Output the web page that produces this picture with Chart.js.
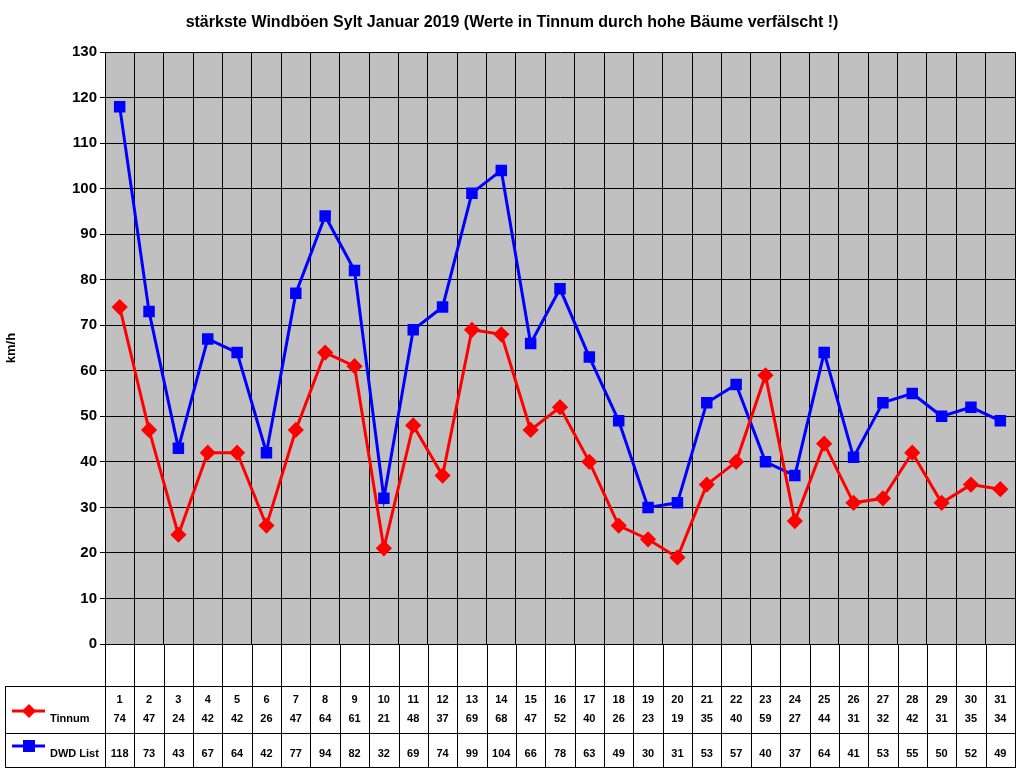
<!DOCTYPE html>
<html>
<head>
<meta charset="utf-8">
<script src="https://cdn.jsdelivr.net/npm/chart.js@4"></script>
<style>body{margin:0;background:#fff}#wrap{width:1024px;height:768px}</style>
</head>
<body>
<div id="wrap"><canvas id="c" width="1024" height="768"></canvas></div>
<script>
const days = ['1','2','3','4','5','6','7','8','9','10','11','12','13','14','15','16','17','18','19','20','21','22','23','24','25','26','27','28','29','30','31'];
const tinnum = [74,47,24,42,42,26,47,64,61,21,48,37,69,68,47,52,40,26,23,19,35,40,59,27,44,31,32,42,31,35,34];
const dwdList = [118,73,43,67,64,42,77,94,82,32,69,74,99,104,66,78,63,49,30,31,53,57,40,37,64,41,53,55,50,52,49];

// grauer Hintergrund + Titel + Datentabelle
const tablePlugin = {
    id: 'tabelle',
    beforeDraw(chart) {
        const ctx = chart.ctx, a = chart.chartArea;
        ctx.save();
        ctx.fillStyle = '#c0c0c0';
        ctx.fillRect(a.left, a.top, a.right - a.left, a.bottom - a.top);
        ctx.restore();
    },
    afterDraw(chart) {
        const ctx = chart.ctx, a = chart.chartArea, x = chart.scales.x;
        const w = (a.right - a.left) / days.length;
        ctx.save();
        ctx.fillStyle = '#000';
        ctx.font = 'bold 16px Arial, "Liberation Sans"';
        ctx.textAlign = 'center';
        ctx.fillText('stärkste Windböen Sylt Januar 2019 (Werte in Tinnum durch hohe Bäume verfälscht !)', 512, 27);

        ctx.strokeStyle = '#000';
        ctx.lineWidth = 1;
        ctx.beginPath();
        for (let i = 0; i <= days.length; i++) {
            const px = Math.round(a.left + i * w) + 0.5;
            ctx.moveTo(px, a.bottom); ctx.lineTo(px, 768);
        }
        ctx.moveTo(5.5, 686); ctx.lineTo(5.5, 768);
        ctx.moveTo(5, 686.5); ctx.lineTo(a.right, 686.5);
        ctx.moveTo(5, 733.5); ctx.lineTo(a.right, 733.5);
        ctx.moveTo(5, 767.5); ctx.lineTo(a.right, 767.5);
        ctx.stroke();

        ctx.font = 'bold 11px Arial, "Liberation Sans"';
        ctx.textAlign = 'center';
        days.forEach((d, i) => {
            const px = x.getPixelForValue(i);
            ctx.fillText(d, px, 703);
            ctx.fillText(tinnum[i], px, 722);
            ctx.fillText(dwdList[i], px, 757);
        });

        // Legendenfelder
        const legend = [['Tinnum', '#ff0000', 711, 722, 'rectRot'], ['DWD List', '#0000ff', 746, 757, 'rect']];
        legend.forEach(l => {
            ctx.strokeStyle = l[1]; ctx.fillStyle = l[1]; ctx.lineWidth = 3;
            ctx.beginPath(); ctx.moveTo(12, l[2]); ctx.lineTo(45, l[2]); ctx.stroke();
            if (l[4] === 'rect') ctx.fillRect(23, l[2] - 6, 12, 12);
            else { ctx.beginPath(); ctx.moveTo(29, l[2] - 7); ctx.lineTo(36, l[2]); ctx.lineTo(29, l[2] + 7); ctx.lineTo(22, l[2]); ctx.closePath(); ctx.fill(); }
            ctx.fillStyle = '#000';
            ctx.textAlign = 'left';
            ctx.font = 'bold 11px Arial, "Liberation Sans"';
            ctx.fillText(l[0], 50, l[3]);
        });
        ctx.restore();
    }
};

new Chart(document.getElementById('c'), {
    type: 'line',
    data: {
        labels: days,
        datasets: [{
            label: 'Tinnum',
            data: tinnum,
            borderColor: '#ff0000',
            backgroundColor: '#ff0000',
            borderWidth: 3,
            pointStyle: 'rectRot',
            pointRadius: 6,
            tension: 0
        }, {
            label: 'DWD List',
            data: dwdList,
            borderColor: '#0000ff',
            backgroundColor: '#0000ff',
            borderWidth: 3,
            pointStyle: 'rect',
            pointRadius: 6,
            tension: 0
        }]
    },
    options: {
        responsive: false,
        animation: false,
        layout: { padding: { top: 52, bottom: 124, right: 4, left: 0 } },
        plugins: { legend: { display: false }, tooltip: { enabled: false } },
        scales: {
            x: {
                offset: true,
                grid: { offset: true, color: '#000', drawTicks: false },
                border: { color: '#000' },
                ticks: { display: false }
            },
            y: {
                min: 0, max: 130,
                afterFit: s => { s.width = 105; },
                grid: { color: '#000', drawTicks: true, tickLength: 5 },
                border: { color: '#000' },
                ticks: { stepSize: 10, color: '#000', font: { family: 'Arial, "Liberation Sans"', size: 15, weight: 'bold' } },
                title: { display: true, text: 'km/h', color: '#000', font: { family: 'Arial, "Liberation Sans"', size: 13, weight: 'bold' } }
            }
        }
    },
    plugins: [tablePlugin]
});
</script>
</body>
</html>
